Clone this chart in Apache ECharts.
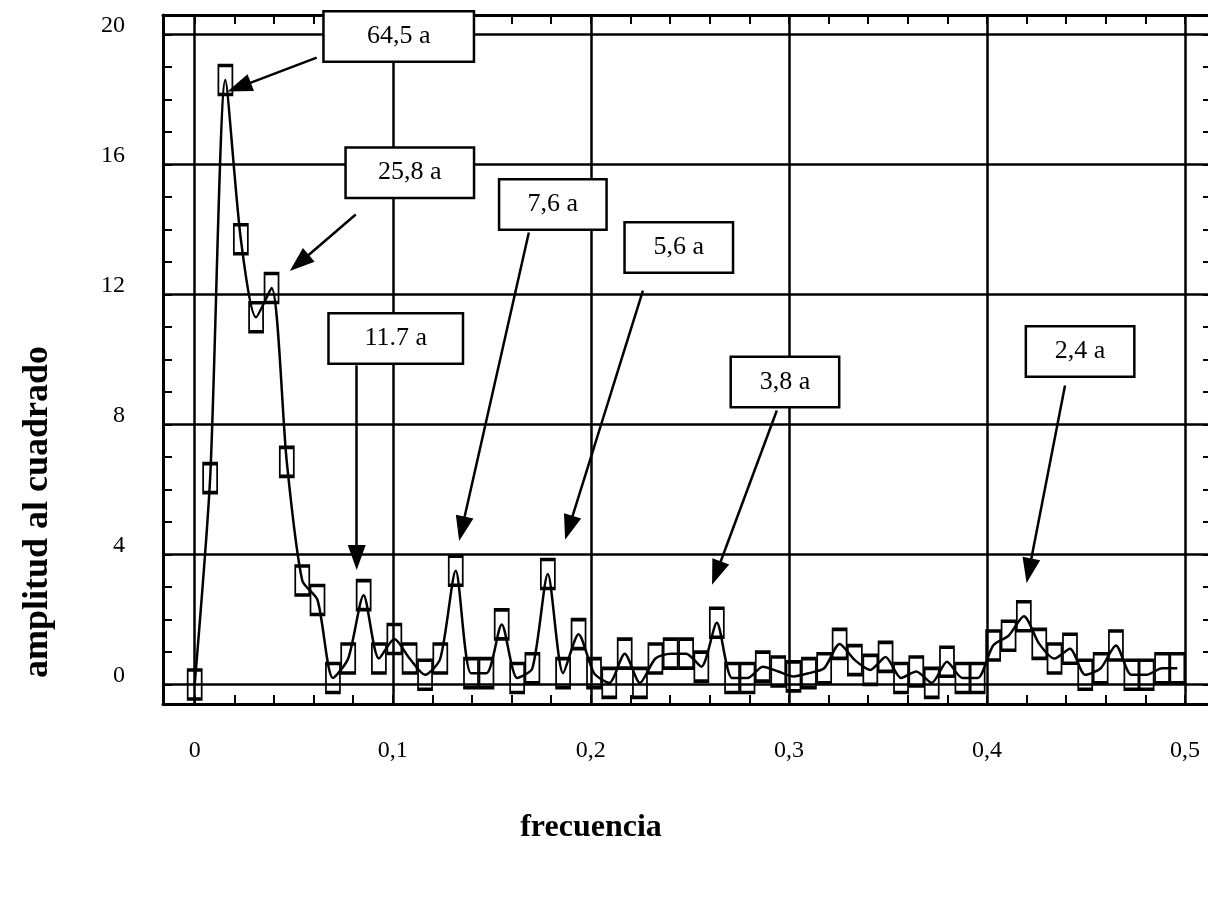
<!DOCTYPE html>
<html>
<head>
<meta charset="utf-8">
<script src="https://cdn.jsdelivr.net/npm/echarts@6/dist/echarts.min.js"></script>
<style>
    html, body { margin: 0; padding: 0; background: #fff; }
    #chart { width: 1208px; height: 902px; }
</style>
</head>
<body>
<div id="chart"></div>
<script>
    //frecuencias del periodograma (k/129)
    let frecuencias = [
        0, 0.0078, 0.0155, 0.0233, 0.0310, 0.0388, 0.0465, 0.0543, 0.0620, 0.0698,
        0.0775, 0.0853, 0.0930, 0.1008, 0.1085, 0.1163, 0.1240, 0.1318, 0.1395, 0.1473,
        0.1550, 0.1628, 0.1705, 0.1783, 0.1860, 0.1938, 0.2016, 0.2093, 0.2171, 0.2248,
        0.2326, 0.2403, 0.2481, 0.2558, 0.2636, 0.2713, 0.2791, 0.2868, 0.2946, 0.3023,
        0.3101, 0.3178, 0.3256, 0.3333, 0.3411, 0.3488, 0.3566, 0.3643, 0.3721, 0.3798,
        0.3876, 0.3953, 0.4031, 0.4109, 0.4186, 0.4264, 0.4341, 0.4419, 0.4496, 0.4574,
        0.4651, 0.4729, 0.4806, 0.4884, 0.4961
    ];
    //amplitud al cuadrado
    let amplitudes = [
        0.0, 6.35, 18.6, 13.7, 11.3, 12.2, 6.85, 3.2, 2.6, 0.2,
        0.8, 2.75, 0.8, 1.4, 0.8, 0.3, 0.8, 3.5, 0.35, 0.35,
        1.85, 0.2, 0.5, 3.4, 0.35, 1.55, 0.35, 0.05, 0.95, 0.05,
        0.8, 0.95, 0.95, 0.55, 1.9, 0.2, 0.2, 0.55, 0.4, 0.25,
        0.35, 0.5, 1.25, 0.75, 0.45, 0.85, 0.2, 0.4, 0.05, 0.7,
        0.2, 0.2, 1.2, 1.5, 2.1, 1.25, 0.8, 1.1, 0.3, 0.5,
        1.2, 0.3, 0.3, 0.5, 0.5
    ];

    //ejes
    let xTickValues = [0, 0.1, 0.2, 0.3, 0.4, 0.5];
    let xTickLabels = ['0', '0,1', '0,2', '0,3', '0,4', '0,5'];
    let xMinorTicks = [0, 0.02, 0.04, 0.06, 0.08, 0.1, 0.12, 0.14, 0.16, 0.18, 0.2, 0.22, 0.24,
        0.26, 0.28, 0.3, 0.32, 0.34, 0.36, 0.38, 0.4, 0.42, 0.44, 0.46, 0.48, 0.5];
    let yTickValues = [0, 4, 8, 12, 16, 20];
    let yTickLabels = ['0', '4', '8', '12', '16', '20'];
    let yMinorTicks = [0, 1, 2, 3, 4, 5, 6, 7, 8, 9, 10, 11, 12, 13, 14, 15, 16, 17, 18, 19, 20];

    //anotaciones de periodos
    let notaTextos = ['64,5 a', '25,8 a', '11.7 a', '7,6 a', '5,6 a', '3,8 a', '2,4 a'];
    let notaCajas = [[0.1030, 19.94], [0.1086, 15.75], [0.1015, 10.65], [0.1808, 14.77],
        [0.2444, 13.45], [0.2980, 9.31], [0.4470, 10.25]];
    let notaColas = [[0.0616, 19.29], [0.0813, 14.46], [0.0818, 9.82], [0.1687, 13.91],
        [0.2263, 12.12], [0.2939, 8.43], [0.4394, 9.20]];
    let notaPuntas = [[0.0224, 18.38], [0.0528, 12.97], [0.0818, 3.91], [0.1349, 4.79],
        [0.1889, 4.82], [0.2634, 3.43], [0.4212, 3.50]];
    let notaAnchos = [148, 126, 132, 105, 106, 106, 106];

    let serif = '"Liberation Serif", "DejaVu Serif", serif';
    let negro = '#000';

    let findLabel = (values, labels, v) => {
        let i = values.findIndex(it => Math.abs(it - v) < 1e-6);
        return i > -1 ? labels[i] : '';
    };

    let baseX = {
        type: 'value',
        min: -0.016,
        max: 0.5136,
        axisLine: { show: true, onZero: false, lineStyle: { color: negro, width: 3 } },
        axisTick: { show: true, inside: true, length: 9, customValues: xMinorTicks, lineStyle: { color: negro, width: 2 } },
        splitLine: { show: false },
        axisLabel: { show: false }
    };
    let baseY = {
        type: 'value',
        min: -0.6,
        max: 20.6,
        axisLine: { show: true, onZero: false, lineStyle: { color: negro, width: 3 } },
        axisTick: { show: true, inside: true, length: 9, customValues: yMinorTicks, lineStyle: { color: negro, width: 2 } },
        splitLine: { show: false },
        axisLabel: { show: false }
    };

    let options = {
        backgroundColor: '#fff',
        animation: false,
        grid: {
            left: 163,
            top: 15,
            right: -4,
            bottom: 198,
            outerBoundsMode: 'none'
        },
        xAxis: [
            Object.assign({}, baseX, {
                position: 'bottom',
                axisLabel: {
                    show: true,
                    customValues: xTickValues,
                    margin: 35,
                    color: negro,
                    fontFamily: serif,
                    fontSize: 24,
                    formatter: (v) => findLabel(xTickValues, xTickLabels, v)
                }
            }),
            Object.assign({}, baseX, { position: 'top' })
        ],
        yAxis: [
            Object.assign({}, baseY, {
                position: 'left',
                axisLabel: {
                    show: true,
                    customValues: yTickValues,
                    margin: 38,
                    color: negro,
                    fontFamily: serif,
                    fontSize: 24,
                    verticalAlign: 'bottom',
                    lineHeight: 17,
                    formatter: (v) => findLabel(yTickValues, yTickLabels, v)
                }
            }),
            Object.assign({}, baseY, { position: 'right' })
        ],
        graphic: [
            {
                type: 'text',
                x: 591,
                y: 828,
                style: { text: 'frecuencia', font: 'bold 32px ' + serif, fill: negro, align: 'center', verticalAlign: 'middle' }
            },
            {
                type: 'text',
                x: 38,
                y: 512,
                rotation: Math.PI / 2,
                style: { text: 'amplitud al cuadrado', font: 'bold 36px ' + serif, fill: negro, align: 'center', verticalAlign: 'middle' }
            }
        ],
        series: [
            {
                //rejilla
                type: 'line',
                name: 'rejilla',
                data: [],
                silent: true,
                z: 1,
                markLine: {
                    silent: true,
                    symbol: 'none',
                    z: 1,
                    label: { show: false },
                    lineStyle: { type: 'solid', color: negro, width: 2.5 },
                    emphasis: { disabled: true },
                    data: yTickValues.map(v => ({ yAxis: v })).concat(xTickValues.map(v => ({ xAxis: v })))
                }
            },
            {
                type: 'line',
                name: 'periodograma',
                data: frecuencias.map((f, i) => [f, amplitudes[i]]),
                smooth: 0.25,
                symbol: 'rect',
                symbolSize: [14, 29],
                showAllSymbol: true,
                z: 3,
                lineStyle: { color: negro, width: 2.5 },
                itemStyle: { color: 'rgba(0,0,0,0)', borderColor: negro, borderWidth: 2.5 },
                emphasis: { disabled: true },
                markLine: {
                    silent: true,
                    z: 12,
                    label: { show: false },
                    lineStyle: { type: 'solid', color: negro, width: 2.5, opacity: 1 },
                    itemStyle: { color: negro },
                    emphasis: { disabled: true },
                    data: notaColas.map((c, i) => [
                        { coord: c, symbol: 'none' },
                        { coord: notaPuntas[i], symbol: 'triangle', symbolSize: [18, 25] }
                    ])
                }
            },
            {
                type: 'scatter',
                name: 'notas',
                z: 10,
                silent: true,
                symbolSize: 1,
                itemStyle: { color: 'rgba(0,0,0,0)', opacity: 1 },
                label: {
                    show: true,
                    position: 'inside',
                    formatter: (p) => notaTextos[p.dataIndex],
                    color: negro,
                    opacity: 1,
                    textBorderWidth: 0,
                    fontFamily: serif,
                    fontSize: 26,
                    backgroundColor: '#fff',
                    borderColor: negro,
                    borderWidth: 2.5,
                    height: 48,
                    lineHeight: 48,
                    align: 'center',
                    verticalAlign: 'middle'
                },
                data: notaCajas.map((c, i) => ({ value: c, label: { width: notaAnchos[i] } }))
            }
        ]
    };

    let ec = echarts.init(document.getElementById('chart'));
    ec.setOption(options);
</script>
</body>
</html>
